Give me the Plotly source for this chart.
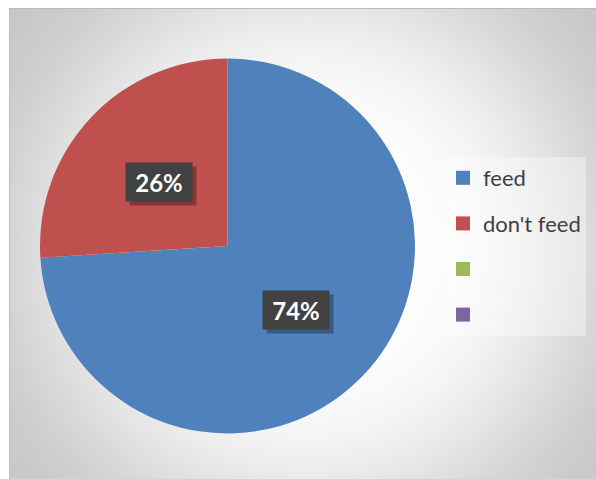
import base64
import struct
import zlib

import numpy as np
import plotly.graph_objects as go

# ---- data ----
labels = ["feed", "don't feed", " ", "  "]
values = [74, 26, 0, 0]
colors = ["#4F81BD", "#C0504D", "#9BBB59", "#8064A2"]

FIG_W, FIG_H = 596, 479
AREA_L, AREA_T = 9, 8  # chart area starts here (white strip above / left)


# ---- background radial gradient (chart area) ----
def make_bg_png(w, h):
    yy, xx = np.mgrid[0:h, 0:w].astype(float)
    r = np.sqrt((xx - 308) ** 2 + (yy - 248) ** 2)
    drop = 1 - np.exp(-((r / 280.0) ** 4))
    v = 255 - 57 * drop
    v[:AREA_T, :] = 255
    v[:, :AREA_L] = 255
    v[AREA_T, AREA_L:] = 186
    v[AREA_T:, AREA_L] = 190
    img = np.repeat(v[:, :, None], 3, axis=2).astype(np.uint8)
    raw = b"".join(b"\x00" + img[i].tobytes() for i in range(h))

    def chunk(tag, data):
        c = struct.pack(">I", len(data)) + tag + data
        return c + struct.pack(">I", zlib.crc32(tag + data) & 0xFFFFFFFF)

    png = b"\x89PNG\r\n\x1a\n"
    png += chunk(b"IHDR", struct.pack(">IIBBBBB", w, h, 8, 2, 0, 0, 0))
    png += chunk(b"IDAT", zlib.compress(raw, 9))
    png += chunk(b"IEND", b"")
    return "data:image/png;base64," + base64.b64encode(png).decode()


bg_src = make_bg_png(FIG_W, FIG_H)

# pie placement in figure pixels -> paper fractions
px_l, px_r, px_t, px_b = 40, 415, 58, 434
dom_x = [px_l / FIG_W, px_r / FIG_W]
dom_y = [1 - px_b / FIG_H, 1 - px_t / FIG_H]

fig = go.Figure()
fig.add_trace(
    go.Pie(
        labels=labels,
        values=values,
        marker=dict(colors=colors, line=dict(width=0)),
        sort=False,
        direction="clockwise",
        rotation=0,
        textinfo="none",
        hoverinfo="label+percent",
        domain=dict(x=dom_x, y=dom_y),
        showlegend=False,
    )
)

# legend entries (one per category, same colours as the slices)
for i, (lab, col) in enumerate(zip(labels, colors)):
    fig.add_trace(
        go.Scatter(
            x=[None], y=[None], mode="markers", name=lab,
            marker=dict(symbol="square", size=14, color=col),
            legendgroup=f"g{i}", showlegend=True, hoverinfo="skip",
        )
    )

# data labels placed along each slice bisector at half the radius
total = sum(values)
cx_px = (px_l + px_r) / 2
cy_px = (px_t + px_b) / 2
r_px = (px_r - px_l) / 2
annotations = []
cum = 0
for v in values:
    if v > 0:
        mid = (cum + v / 2) / total * 2 * np.pi
        lx = cx_px + 0.5 * r_px * np.sin(mid)
        ly = cy_px - 0.5 * r_px * np.cos(mid)
        txt = f"<b>{round(v / total * 100)}%</b>"
        common = dict(
            x=lx / FIG_W, y=1 - ly / FIG_H, xref="paper", yref="paper",
            xanchor="center", yanchor="middle", align="center", valign="middle",
            showarrow=False, borderpad=1, width=64, height=36,
        )
        # soft drop shadow box (no text)
        annotations.append(dict(common, text="&nbsp;", bgcolor="rgba(0,0,0,0.3)",
                                font=dict(family="Lato", size=24, color="rgba(0,0,0,0)"),
                                xshift=4, yshift=-4))
        annotations.append(dict(common, text=txt, bgcolor="#414141",
                                font=dict(family="Lato", size=24, color="#FFFFFF")))
    cum += v

fig.update_layout(
    width=FIG_W,
    height=FIG_H,
    margin=dict(l=0, r=0, t=0, b=0),
    paper_bgcolor="#FFFFFF",
    plot_bgcolor="rgba(0,0,0,0)",
    xaxis=dict(visible=False),
    yaxis=dict(visible=False),
    images=[dict(source=bg_src, xref="paper", yref="paper",
                 x=0, y=1, sizex=1, sizey=1,
                 xanchor="left", yanchor="top", sizing="stretch", layer="below")],
    annotations=annotations,
    showlegend=True,
    legend=dict(
        x=443 / FIG_W, y=1 - 157 / FIG_H, xanchor="left", yanchor="top",
        bgcolor="rgba(255,255,255,0.35)", borderwidth=0,
        font=dict(family="Lato", size=22, color="#404040"),
        traceorder="grouped", tracegroupgap=14,
        itemclick=False, itemdoubleclick=False,
    ),
)

fig.write_html(
    "out.html",
    config={"displayModeBar": False},
    post_script="document.body.style.margin='0px';document.body.style.overflow='hidden';",
)
